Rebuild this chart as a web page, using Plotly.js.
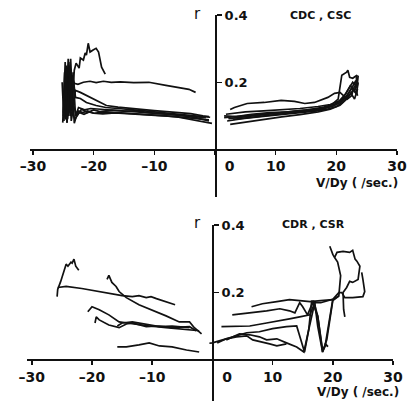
<!DOCTYPE html>
<html><head><meta charset="utf-8">
<script src="https://cdn.plot.ly/plotly-3.0.1.min.js"></script>
<style>html,body{margin:0;padding:0;background:#fff}#chart{width:407px;height:402px}</style>
</head><body><div id="chart"></div>
<script>
// tick labels
const xTickVals = [-30,-20,-10,0,10,20,30];
const xTickText = ['\u201330','\u201320','\u201310','\u00a0\u00a0\u00a0\u00a0\u00a0\u00a00','10','20','30'];
const yTickVals = [0.2,0.4];
const yTickText = ['0.2','0.4'];

// ---- top panel (CDC, CSC), negative V/Dy ----
const tL0x = [-24.8,-24.5,-24.2,-23.8,-23.5,-23.2,-22.9,-22.4,-22.2,-21.7,-21.4,-21.2,-20.9,-20.6,-20.1,-19.6,-19.2,-18.7,-18.1];
const tL0y = [0.12,0.25,0.10,0.27,0.15,0.236,0.257,0.242,0.272,0.266,0.287,0.281,0.316,0.29,0.296,0.301,0.29,0.245,0.224];
const tL1x = [-24.6,-24.3,-24.0,-23.6,-23.2,-22.6,-21.7,-20.6,-19.6,-18.4,-17.1,-15.6,-13.4,-10.9,-8.1,-6.0,-4.3,-3.2];
const tL1y = [0.09,0.24,0.11,0.22,0.197,0.194,0.2,0.203,0.199,0.203,0.2,0.201,0.199,0.2,0.191,0.185,0.179,0.17];
const tL2x = [-25.0,-24.7,-24.4,-24.0,-23.6,-23.0,-22.2,-21.2,-20.1,-18.9,-17.9,-16.0,-14.0,-12.0,-10.0,-8.0,-6.0,-4.0,-2.0,-1.0];
const tL2y = [0.10,0.26,0.08,0.20,0.12,0.176,0.170,0.161,0.152,0.140,0.131,0.126,0.122,0.119,0.116,0.113,0.11,0.107,0.10,0.098];
const tL3x = [-24.9,-24.6,-24.2,-23.8,-23.3,-23.0,-22.2,-21.2,-19.6,-18.0,-16.0,-14.0,-12.0,-10.0,-8.0,-6.0,-4.0,-2.0,-0.8];
const tL3y = [0.13,0.09,0.27,0.10,0.20,0.155,0.152,0.140,0.131,0.125,0.122,0.12,0.116,0.112,0.109,0.106,0.103,0.10,0.096];
const tL4x = [-25.1,-24.8,-24.4,-24.1,-23.7,-23.3,-22.8,-22.0,-21.0,-20.0,-19.0,-17.0,-15.0,-13.0,-11.0,-9.0,-7.0,-5.0,-3.0,-1.0];
const tL4y = [0.08,0.23,0.09,0.26,0.085,0.13,0.10,0.12,0.11,0.118,0.113,0.117,0.114,0.115,0.11,0.108,0.104,0.10,0.094,0.085];
const tL5x = [-25.2,-24.9,-24.5,-24.1,-23.6,-23.2,-22.6,-21.8,-21.0,-20.0,-18.0,-16.0,-14.0,-12.0,-10.0,-8.0,-6.0,-4.0,-2.0,-0.5];
const tL5y = [0.20,0.085,0.24,0.10,0.22,0.078,0.115,0.11,0.115,0.108,0.112,0.11,0.108,0.106,0.104,0.10,0.096,0.09,0.082,0.078];
const tL6x = [-24.7,-24.4,-24.0,-23.7,-23.4,-23.0,-22.5,-21.5,-20.5,-19.0,-17.0,-15.0,-13.0,-11.0,-9.0,-7.0,-5.0,-3.0,-1.5];
const tL6y = [0.15,0.08,0.25,0.12,0.23,0.10,0.125,0.118,0.122,0.12,0.118,0.116,0.113,0.109,0.106,0.104,0.10,0.098,0.095];
const tL7x = [-25.0,-24.6,-24.3,-23.9,-23.5,-23.1,-22.4,-21.6,-20.8,-20.0,-18.5,-16.5,-14.5,-12.5,-10.5,-8.5,-6.5,-4.5,-2.5,-1.0];
const tL7y = [0.11,0.20,0.09,0.23,0.11,0.09,0.11,0.105,0.112,0.108,0.106,0.109,0.107,0.104,0.102,0.10,0.098,0.094,0.09,0.088];

// ---- top panel, positive V/Dy ----
const tR0x = [2.5,3.2,5.3,8.1,10.9,13.1,14.8,16.4,18.6,19.7,20.6,21.1,21.8,22.5,23.0];
const tR0y = [0.119,0.125,0.137,0.140,0.146,0.143,0.137,0.140,0.155,0.167,0.170,0.161,0.15,0.16,0.19];
const tR1x = [1.5,4.0,7.0,10.0,13.0,16.0,18.0,19.5,20.8,21.8,22.6,23.2,23.5,23.3];
const tR1y = [0.095,0.10,0.104,0.108,0.113,0.118,0.124,0.13,0.142,0.16,0.185,0.205,0.19,0.215];
const tR2x = [2.0,4.5,7.5,10.5,13.5,16.5,18.5,20.0,21.0,22.0,22.8,23.3,23.6];
const tR2y = [0.085,0.092,0.098,0.103,0.108,0.114,0.12,0.128,0.14,0.158,0.178,0.165,0.20];
const tR3x = [1.8,3.0,5.0,8.0,11.0,14.0,17.0,19.0,20.5,21.5,22.3,23.0,23.4];
const tR3y = [0.105,0.108,0.112,0.115,0.118,0.122,0.128,0.134,0.145,0.165,0.19,0.175,0.21];
const tR4x = [2.5,5.0,8.0,11.0,14.0,17.0,19.0,20.6,21.6,22.4,23.0,23.5];
const tR4y = [0.075,0.082,0.09,0.097,0.104,0.112,0.12,0.132,0.148,0.168,0.15,0.18];
const tR5x = [1.5,3.5,6.0,9.0,12.0,15.0,18.0,19.8,21.0,21.9,22.7,23.4,23.6];
const tR5y = [0.10,0.098,0.105,0.11,0.112,0.117,0.126,0.136,0.15,0.175,0.20,0.185,0.22];
const tR6x = [3.0,5.5,8.5,11.5,14.5,17.5,19.2,20.6,21.7,22.5,23.2];
const tR6y = [0.09,0.095,0.10,0.106,0.111,0.119,0.128,0.14,0.16,0.182,0.17];
const tR7x = [2.2,5.0,8.0,11.0,14.0,17.0,19.0,20.3,20.9,21.7,21.9,22.2,22.7,23.4,23.2,23.5];
const tR7y = [0.092,0.097,0.103,0.11,0.116,0.121,0.13,0.15,0.221,0.23,0.236,0.215,0.212,0.221,0.18,0.16];

// ---- bottom panel (CDR, CSR), negative V/Dy ----
const bL1x = [-25.8,-25.7,-25.2,-24.7,-24.3,-24.0,-23.5,-23.3,-23.0,-22.7,-22.2];
const bL1y = [0.188,0.209,0.233,0.263,0.284,0.278,0.29,0.287,0.299,0.278,0.266];
const bL2x = [-25.7,-24.3,-21.7,-18.8,-17.2,-15.0,-13.3,-12.2,-11.0,-10.2,-9.3,-7.7,-6.2];
const bL2y = [0.215,0.218,0.212,0.203,0.197,0.191,0.188,0.191,0.185,0.188,0.182,0.173,0.164];
const bL3x = [-17.5,-17.2,-16.7,-16.0,-15.5,-14.3,-12.2,-10.0,-7.7,-5.5,-3.8,-3.0,-1.8];
const bL3y = [0.239,0.251,0.23,0.218,0.203,0.185,0.164,0.149,0.131,0.113,0.113,0.096,0.078];
const bL4x = [-20.7,-20.0,-18.8,-17.2,-15.5,-13.3,-10.5,-7.7,-4.3,-2.2];
const bL4y = [0.143,0.158,0.149,0.134,0.113,0.107,0.101,0.096,0.09,0.087];
const bL5x = [-19.5,-19.3,-18.8,-17.2,-15.5,-14.3,-13.3,-11.0,-8.8,-6.7,-3.8,-2.7];
const bL5y = [0.11,0.128,0.119,0.104,0.096,0.107,0.11,0.099,0.101,0.096,0.099,0.087];
const bL6x = [-15.8,-15.0,-13.3,-11.0,-8.8,-6.7,-3.8];
const bL6y = [0.101,0.11,0.113,0.107,0.099,0.101,0.096];
const bL7x = [-15.8,-14.3,-12.2,-10.5,-8.8,-6.7,-4.3,-2.2];
const bL7y = [0.039,0.039,0.045,0.051,0.042,0.039,0.03,0.024];

// ---- bottom panel, positive V/Dy ----
const bR1x = [6.5,8.3,10.7,12.8,14.5,16.2,18.0,20.0,21.0];
const bR1y = [0.158,0.167,0.173,0.179,0.176,0.173,0.176,0.179,0.19];
const bR2x = [3.3,5.0,7.3,9.0,11.2,12.8,13.7,14.5,15.0,15.8,16.8,17.5,18.3,19.0,20.0,21.0,21.3,20.8,20.3,20.0,19.5];
const bR2y = [0.134,0.137,0.143,0.146,0.152,0.146,0.14,0.17,0.158,0.134,0.176,0.13,0.024,0.06,0.176,0.19,0.25,0.29,0.304,0.313,0.337];
const bR7x = [20.3,20.7,21.7,22.8,23.3,23.7,24.0,24.5,24.2,23.3,22.8,22.3,21.7,21.8,22.0];
const bR7y = [0.304,0.319,0.322,0.319,0.325,0.299,0.293,0.278,0.239,0.23,0.233,0.215,0.2,0.15,0.128];
const bR3x = [1.5,3.3,6.2,9.0,11.2,12.8,14.5,16.2,17.0,18.0,19.0,20.0,21.0,21.5,22.0,23.3,25.0,25.3,25.0,24.8];
const bR3y = [0.099,0.099,0.101,0.11,0.116,0.122,0.128,0.134,0.17,0.17,0.175,0.18,0.2,0.2,0.185,0.185,0.188,0.203,0.239,0.26];
const bR4x = [-0.5,0.0,1.7,3.3,5.7,7.8,10.0,12.3,14.0,15.3,16.0,17.0,17.5,18.3,18.7,20.0];
const bR4y = [0.05,0.051,0.06,0.069,0.081,0.084,0.093,0.099,0.101,0.024,0.09,0.17,0.10,0.024,0.04,0.18];
const bR5x = [2.3,3.3,4.5,6.2,7.8,9.0,10.7,12.3,14.0,15.2,16.0,16.5,17.5,18.3,18.8,19.2,18.7];
const bR5y = [0.06,0.069,0.078,0.075,0.069,0.06,0.063,0.051,0.039,0.024,0.09,0.176,0.13,0.03,0.045,0.04,0.05];
const bR6x = [0.8,2.3,4.0,5.7,6.7,8.3,9.5,10.7,12.3];
const bR6y = [0.051,0.063,0.069,0.072,0.06,0.054,0.048,0.042,0.048];

const topSeries = [[tL0x,tL0y],[tL1x,tL1y],[tL2x,tL2y],[tL3x,tL3y],[tL4x,tL4y],[tL5x,tL5y],[tL6x,tL6y],[tL7x,tL7y],
  [tR0x,tR0y],[tR1x,tR1y],[tR2x,tR2y],[tR3x,tR3y],[tR4x,tR4y],[tR5x,tR5y],[tR6x,tR6y],[tR7x,tR7y]];
const botSeries = [[bL1x,bL1y],[bL2x,bL2y],[bL3x,bL3y],[bL4x,bL4y],[bL5x,bL5y],[bL6x,bL6y],[bL7x,bL7y],
  [bR1x,bR1y],[bR2x,bR2y],[bR7x,bR7y],[bR3x,bR3y],[bR4x,bR4y],[bR5x,bR5y],[bR6x,bR6y]];

const INK = '#111';
const W = 407, H = 402;
function mk(s, xa, ya){
  return {x:s[0], y:s[1], xaxis:xa, yaxis:ya, type:'scatter', mode:'lines',
    line:{color:INK, width:1.7}, hoverinfo:'skip', showlegend:false};
}
const data = topSeries.map(s=>mk(s,'x','y')).concat(botSeries.map(s=>mk(s,'x2','y2')));

const tickFont = {family:'DejaVu Sans', size:14, color:INK, weight:'bold'};
function xa(domain, range, posPx){
  return {domain:domain, range:range, anchor:'free', position:1-posPx/H,
    showline:true, linewidth:2, linecolor:INK, ticks:'outside', ticklen:4, tickwidth:1.5, tickcolor:INK,
    tickmode:'array', tickvals:xTickVals, ticktext:xTickText, tickfont:tickFont,
    showgrid:false, zeroline:false, fixedrange:true};
}
function ya(domain, range, posPx){
  return {domain:domain, range:range, anchor:'free', position:posPx/W, side:'right',
    showline:true, linewidth:2, linecolor:INK, ticks:'outside', ticklen:5, tickwidth:1.5, tickcolor:INK,
    tickmode:'array', tickvals:yTickVals, ticktext:yTickText,
    tickfont:{family:'DejaVu Sans', size:13, color:INK, weight:'bold'},
    showgrid:false, zeroline:false, fixedrange:true};
}
function ann(text, px, py, size, weight){
  return {text:text, xref:'paper', yref:'paper', x:px/W, y:1-py/H, showarrow:false,
    xanchor:'center', yanchor:'middle', font:{family:'DejaVu Sans', size:size, color:INK, weight:weight||'bold'}};
}
const layout = {
  width:W, height:H, margin:{l:0,r:0,t:0,b:0}, paper_bgcolor:'#fff', plot_bgcolor:'rgba(0,0,0,0)',
  showlegend:false,
  xaxis: xa([30/W, 397/W], [-30.5, 30], 149.5),
  yaxis: ya([1-197/H, 1-15/H], [-0.141, 0.4], 216),
  xaxis2: xa([27/W, 393/W], [-30.8, 30], 360),
  yaxis2: ya([1-401/H, 1-225/H], [-0.121, 0.4], 213),
  annotations:[
    ann('r',197,14,15,'normal'), ann('CDC , CSC',320,15.5,11), ann('V/Dy ( /sec.)',357,183,12),
    ann('r',197,223,15,'normal'), ann('CDR , CSR',313,225,11), ann('V/Dy ( /sec.)',358,392,12)
  ]
};
Plotly.newPlot('chart', data, layout, {staticPlot:true, displayModeBar:false});
</script></body></html>
